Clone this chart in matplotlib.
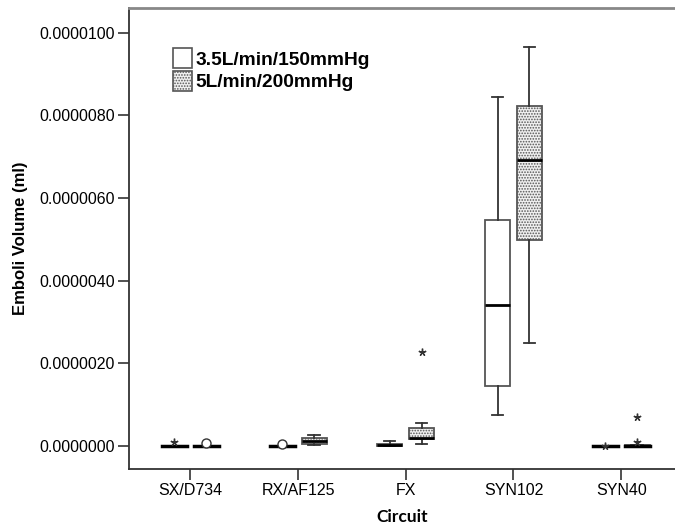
import numpy as np
import matplotlib.pyplot as plt
from matplotlib.patches import Patch

circuits = ["SX/D734", "RX/AF125", "FX", "SYN102", "SYN40"]
series = ["3.5L/min/150mmHg", "5L/min/200mmHg"]

# box statistics (ml): whislo, q1, med, q3, whishi
low_whislo = [0.0, 0.0, 0.0, 0.75e-6, 0.0]
low_q1 = [0.0, 0.0, 0.01e-6, 1.45e-6, 0.0]
low_med = [0.0, 0.0, 0.03e-6, 3.41e-6, 0.0]
low_q3 = [0.0, 0.0, 0.05e-6, 5.47e-6, 0.0]
low_whishi = [0.0, 0.0, 0.13e-6, 8.45e-6, 0.0]

high_whislo = [0.0, 0.03e-6, 0.05e-6, 2.49e-6, 0.0]
high_q1 = [0.0, 0.06e-6, 0.17e-6, 4.99e-6, 0.0]
high_med = [0.0, 0.12e-6, 0.20e-6, 6.92e-6, 0.0]
high_q3 = [0.0, 0.20e-6, 0.44e-6, 8.23e-6, 0.02e-6]
high_whishi = [0.0, 0.27e-6, 0.56e-6, 9.66e-6, 0.02e-6]

# outliers: circles (o) and extremes (*)
low_circles = [[], [0.05e-6], [], [], []]
low_stars = [[0.1e-6], [], [], [], [0.0]]
high_circles = [[0.07e-6], [], [], [], []]
high_stars = [[], [], [2.28e-6], [], [0.1e-6, 0.7e-6]]

plt.rcParams['font.family'] = ['Liberation Sans', 'DejaVu Sans']
plt.rcParams['hatch.color'] = '#999999'
plt.rcParams['hatch.linewidth'] = 0.8

fig = plt.figure(figsize=(6.75, 5.31), dpi=100)
ax = fig.add_axes([129 / 675, 62 / 531, 546 / 675, 461 / 531])

x = np.arange(len(circuits))
off = 0.148
w = 0.232


def stats(wl, q1, md, q3, wh):
    return [dict(whislo=a, q1=b, med=c, q3=d, whishi=e, fliers=[])
            for a, b, c, d, e in zip(wl, q1, md, q3, wh)]


edge = "#555555"
for k, (st, face, hatch) in enumerate([
        (stats(low_whislo, low_q1, low_med, low_q3, low_whishi), "white", None),
        (stats(high_whislo, high_q1, high_med, high_q3, high_whishi), "#f0f0f0", "......")]):
    pos = x + (-off if k == 0 else off)
    b = ax.bxp(st, positions=pos, widths=w, patch_artist=True, showfliers=False,
               boxprops=dict(facecolor=face, edgecolor=edge, linewidth=1.3, hatch=hatch),
               medianprops=dict(color="black", linewidth=2),
               whiskerprops=dict(color="#333333", linewidth=1.3),
               capprops=dict(color="#333333", linewidth=1.3),
               capwidths=w * 0.45)
    # flat boxes show as thick lines
    for i, s in enumerate(st):
        if s["q3"] - s["q1"] < 0.03e-6:
            ax.plot([pos[i] - w / 2, pos[i] + w / 2], [s["med"], s["med"]],
                    color="black", linewidth=2.5, zorder=3)

for k, (circ, star) in enumerate([(low_circles, low_stars), (high_circles, high_stars)]):
    pos = x + (-off if k == 0 else off)
    for i in range(len(circuits)):
        for v in circ[i]:
            ax.plot(pos[i], v, marker="o", markersize=6.5, markerfacecolor="white",
                    markeredgecolor="#333333", markeredgewidth=1, zorder=4)
        for v in star[i]:
            ax.plot(pos[i], v, marker=(5, 2, 0), markersize=5.5, color="#333333",
                    markeredgewidth=1, zorder=4)

ax.set_xlim(-0.57, 4.5)
ax.set_ylim(-0.557e-6, 10.6e-6)
ax.set_xticks(x)
ax.set_xticklabels(circuits, fontsize=11.5)
yt = np.arange(0, 11e-6, 2e-6)
ax.set_yticks(yt)
ax.set_yticklabels(["%.7f" % v for v in yt], fontsize=11.5)
ax.tick_params(direction="out", length=8, width=1.2, color="#333333", pad=2)

ax.spines["right"].set_visible(False)
ax.spines["top"].set_color("#888888")
ax.spines["top"].set_linewidth(2)
ax.spines["left"].set_linewidth(1.3)
ax.spines["bottom"].set_linewidth(1.3)
ax.spines["left"].set_color("#333333")
ax.spines["bottom"].set_color("#333333")

ax.set_ylabel("Emboli Volume (ml)", fontsize=12, fontweight="bold", labelpad=8)
ax.set_xlabel("Circuit", fontsize=12.5, fontweight="bold", family=["Lato", "DejaVu Sans"], labelpad=8)

handles = [Patch(facecolor="white", edgecolor=edge, linewidth=1.2),
           Patch(facecolor="#f0f0f0", edgecolor=edge, hatch="......", linewidth=1.2)]
leg = ax.legend(handles, series, loc="upper left", bbox_to_anchor=(160 / 675, 496 / 531),
                bbox_transform=fig.transFigure, frameon=False,
                prop=dict(weight="bold", size=13.8), handlelength=0.95, handleheight=1.2,
                handletextpad=0.2, labelspacing=0.12, borderpad=0.2)

fig.savefig("out.png", dpi=100)
